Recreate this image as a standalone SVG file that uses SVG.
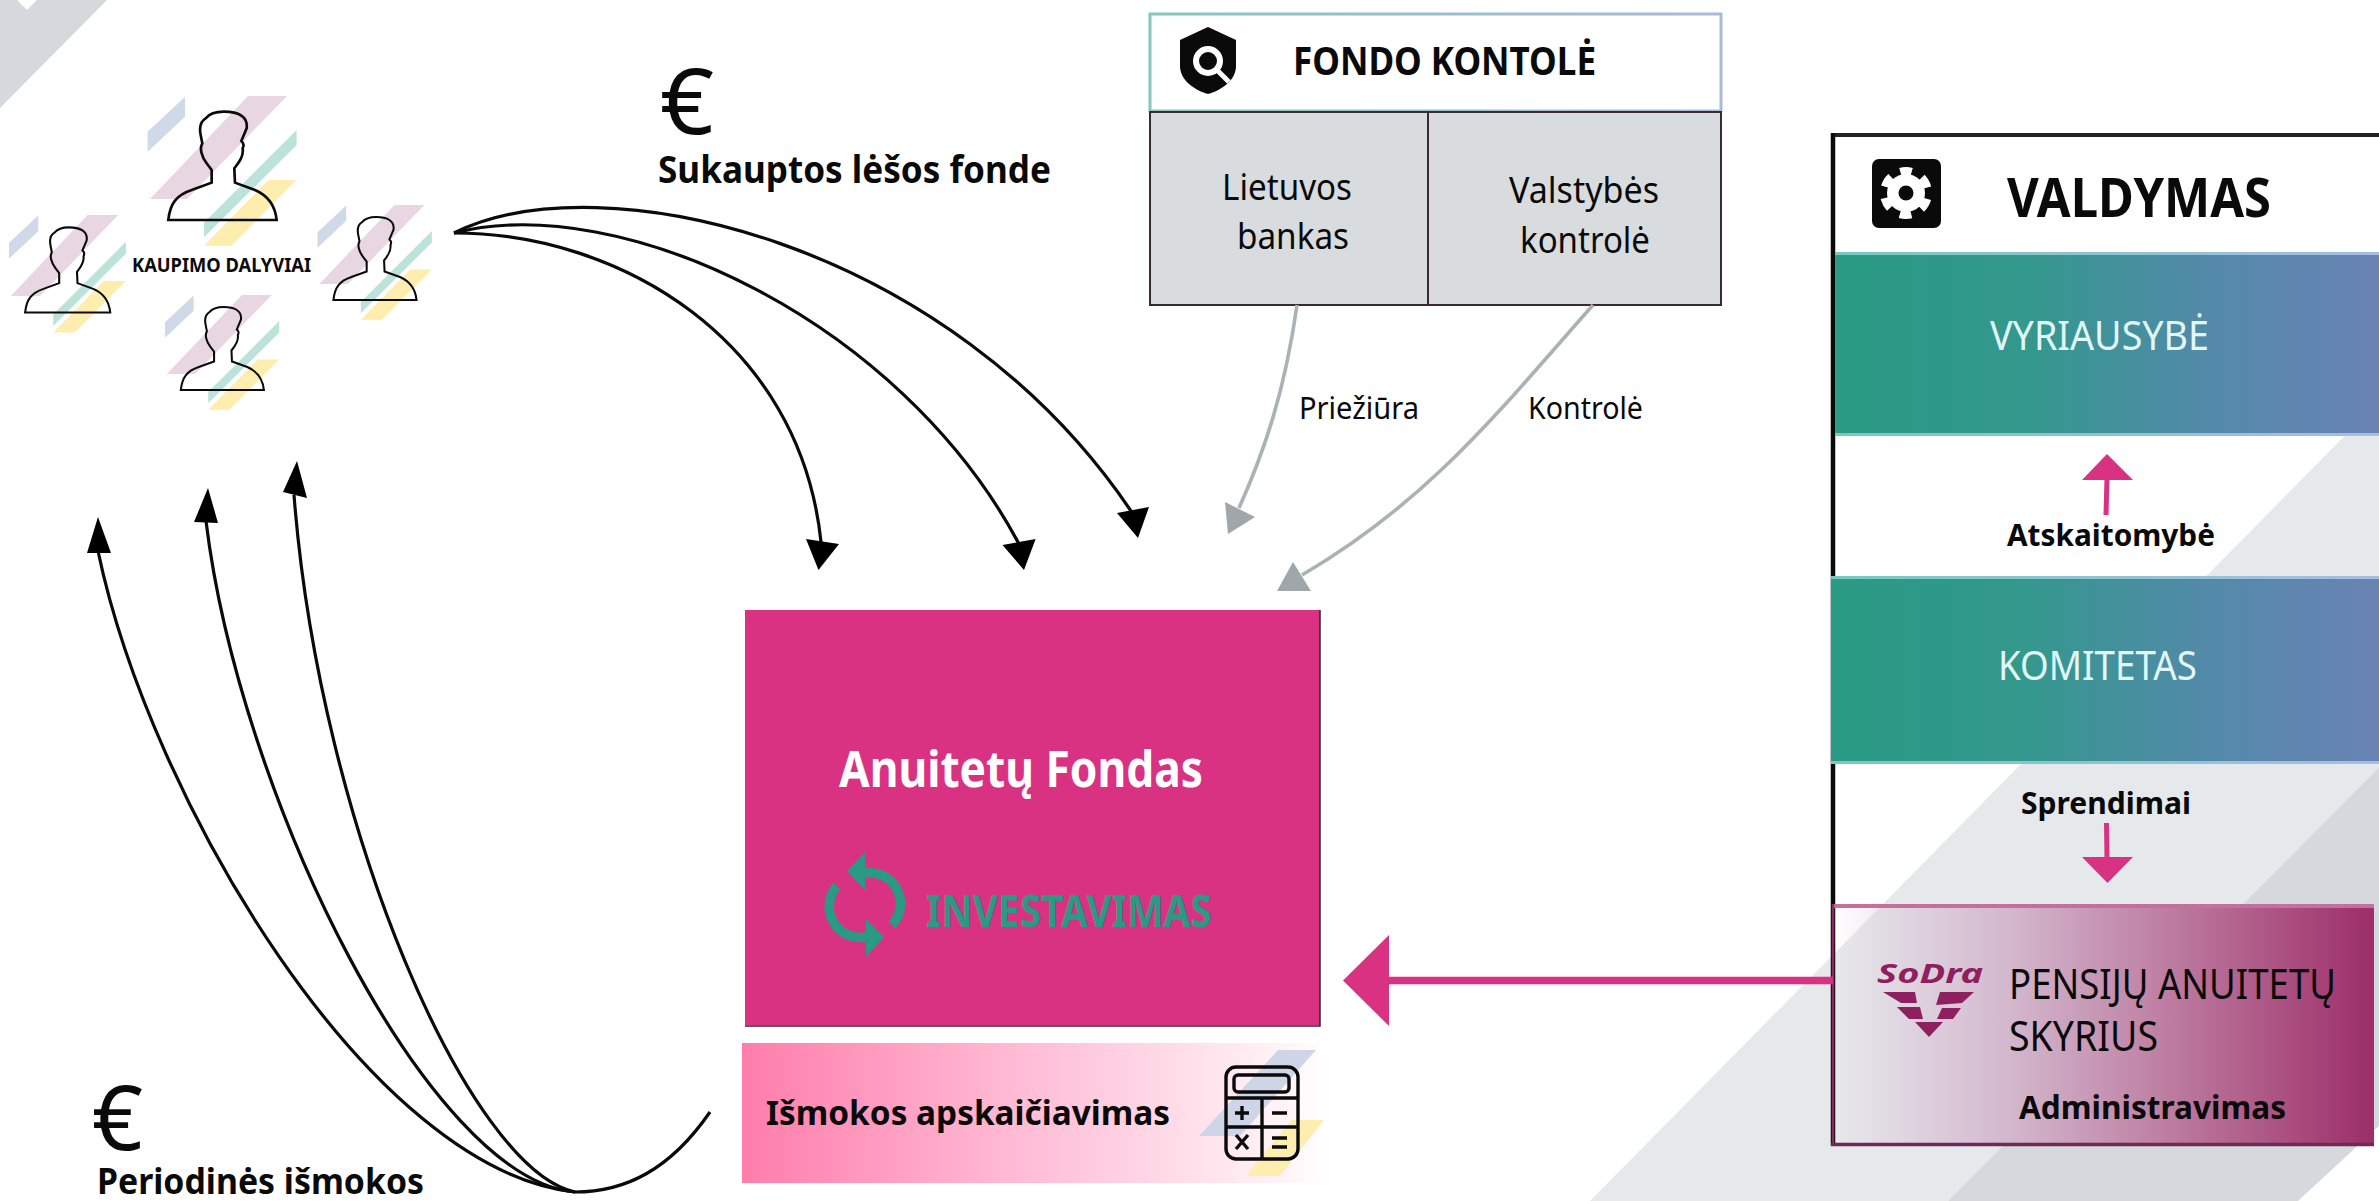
<svg xmlns="http://www.w3.org/2000/svg" width="2379" height="1201" viewBox="0 0 2379 1201">
<style>
text{font-family:"Noto Sans","Liberation Sans",sans-serif;fill:#0a0a0a}
.b{font-weight:700}
.w{fill:#e2f7f7;font-size:40px}
.blk{fill:none;stroke:#0a0a0a;stroke-width:3.2}
.bh{fill:#000}
.gry{fill:none;stroke:#aab2b5;stroke-width:3.6}
.gh{fill:#9fa7aa}
.pk{fill:#d93282}
.pl{fill:none;stroke:#d93282}
.bar{fill:url(#teal)}
.edge{fill:url(#edge)}
.cal{fill:none;stroke:#0a0a0a;stroke-width:3.4}
</style>
<defs>
<linearGradient id="teal" x1="0" x2="1" y1="0" y2="0"><stop offset="0" stop-color="#2a9b84"/><stop offset=".35" stop-color="#33988d"/><stop offset=".7" stop-color="#5489aa"/><stop offset="1" stop-color="#6983b5"/></linearGradient>
<linearGradient id="edge" x1="0" x2="1" y1="0" y2="0"><stop offset="0" stop-color="#78c9c0"/><stop offset="1" stop-color="#a6bde0"/></linearGradient>
<linearGradient id="hdr" gradientUnits="userSpaceOnUse" x1="1150" x2="1722" y1="0" y2="0"><stop offset="0" stop-color="#85c7bb"/><stop offset="1" stop-color="#a9bad9"/></linearGradient>
<linearGradient id="sod" x1="0" x2="1" y1="0" y2="0"><stop offset="0" stop-color="#d6b9cf" stop-opacity="0"/><stop offset=".33" stop-color="#d3b7cd"/><stop offset=".62" stop-color="#bd7da1"/><stop offset="1" stop-color="#9c2e68"/></linearGradient>
<linearGradient id="rose" x1="0" x2="1" y1="0" y2="0"><stop offset="0" stop-color="#ff7dab"/><stop offset=".45" stop-color="#ffb9d3"/><stop offset=".75" stop-color="#ffdde9"/><stop offset="1" stop-color="#ffffff"/></linearGradient>
<g id="person">
<path d="M443,395 L555,290 V350 L443,455Z" fill="#d0d9e8"/>
<path d="M744,288 H861 L561,597 H450Z" fill="#e8d7e2"/>
<path d="M890,390 V435 L612,712 V668Z" fill="#bce3da"/>
<path d="M805,540 H890 L695,737 H612Z" fill="#fdeeb0"/>
<path d="M505,660 H830 C825,610 800,585 765,570 L705,548 L703,505 C715,490 732,470 728,445 Q735,432 724,423 L740,385 C745,350 715,335 672,335 C640,335 625,345 617,355 C600,365 598,385 602,405 L607,430 C598,445 605,470 620,490 L635,510 L635,548 L575,570 C530,585 510,610 505,660Z" fill="none" stroke="#0a0a0a" stroke-width="8"/>
</g>
</defs>
<rect width="2379" height="1201" fill="#fff"/>
<g id="background">
<path d="M0,0 H107 L0,108Z" fill="#d5d9dd"/>
<path d="M17,0 H37 L27,10Z" fill="#fff"/>
<path d="M2379,401 V767 L1948,1201 H1590Z" fill="#e6e9ec"/>
<path d="M2379,767 V1126 L2298,1201 H1948Z" fill="#d5d9dd"/>
</g>
<g id="kaupimo-dalyviai">
<use href="#person" transform="scale(.3333)"/>
<use href="#person" transform="translate(-107,139.7) scale(.2617)"/>
<use href="#person" transform="translate(204.3,131.3) scale(.2557)"/>
<use href="#person" transform="translate(51.7,221.3) scale(.2557)"/>
<text class="b" x="132" y="272" font-size="20" textLength="179" lengthAdjust="spacingAndGlyphs">KAUPIMO DALYVIAI</text>
</g>
<g id="sukauptos">
<text x="660" y="134" font-size="92" textLength="54" lengthAdjust="spacingAndGlyphs">€</text>
<text class="b" x="658" y="183" font-size="38" textLength="393" lengthAdjust="spacingAndGlyphs">Sukauptos lėšos fonde</text>
</g>
<g id="periodines">
<text x="92" y="1150" font-size="90" textLength="51" lengthAdjust="spacingAndGlyphs">€</text>
<text class="b" x="97" y="1194" font-size="36" textLength="327" lengthAdjust="spacingAndGlyphs">Periodinės išmokos</text>
</g>
<g id="fondo-kontrole">
<rect x="1150" y="14" width="571" height="97" fill="#fff" stroke="url(#hdr)" stroke-width="3"/>
<path d="M1208,27 L1236,40 V66 C1236,80 1222,90 1208,94 C1194,90 1180,80 1180,66 V40Z" fill="#0a0a0a"/>
<circle cx="1208" cy="61" r="12" fill="none" stroke="#fff" stroke-width="6"/>
<path d="M1217,70 L1229,82" stroke="#fff" stroke-width="5"/>
<text class="b" x="1293" y="75" font-size="40" textLength="303" lengthAdjust="spacingAndGlyphs">FONDO KONTOLĖ</text>
<rect x="1150" y="112" width="571" height="193" fill="#d9dcde" stroke="#3a2a33" stroke-width="2"/>
<path d="M1428,112 V305" stroke="#3a2a33" stroke-width="2"/>
<text x="1222" y="200" font-size="37" textLength="130" lengthAdjust="spacingAndGlyphs">Lietuvos</text>
<text x="1237" y="249" font-size="37" textLength="112" lengthAdjust="spacingAndGlyphs">bankas</text>
<text x="1509" y="203" font-size="37" textLength="150" lengthAdjust="spacingAndGlyphs">Valstybės</text>
<text x="1520" y="253" font-size="37" textLength="130" lengthAdjust="spacingAndGlyphs">kontrolė</text>
</g>
<g id="anuitetu-fondas">
<rect x="745" y="610" width="575" height="415" class="pk"/>
<path d="M1320,610 V1026 H745" fill="none" stroke="#33202a" stroke-width="1.5"/>
<text class="b" x="839" y="787" font-size="50" textLength="364" lengthAdjust="spacingAndGlyphs" style="fill:#fff">Anuitetų Fondas</text>
<path d="M865,873 A31,31 0 0 1 892,925 M866,937 A31,31 0 0 1 837,886" fill="none" stroke="#2a9a85" stroke-width="9.500"/>
<path d="M847,871 L865,852 V890Z M884,937 L866,919 V957Z" fill="#2a9a85"/>
<text class="b" x="926" y="927" font-size="44" textLength="286" lengthAdjust="spacingAndGlyphs" style="fill:#2a9a85">INVESTAVIMAS</text>
</g>
<g id="ismokos-apskaiciavimas">
<rect x="742" y="1043" width="587" height="140" fill="url(#rose)"/>
<path d="M1278,1050 H1316 L1240,1136 H1199Z" fill="#cdd5e6"/>
<path d="M1291,1120 H1324 L1280,1176 H1246Z" fill="#fdeeb0"/>
<text class="b" x="766" y="1125" font-size="34" textLength="404" lengthAdjust="spacingAndGlyphs">Išmokos apskaičiavimas</text>
<rect x="1226" y="1067" width="72" height="92" rx="10" class="cal"/>
<rect x="1234" y="1075" width="55" height="17" rx="4" class="cal"/>
<path d="M1226,1098 H1298 M1226,1127 H1298 M1262,1098 V1159" class="cal"/>
<path d="M1235,1113 H1249 M1242,1106 V1120 M1272,1113 H1287 M1236,1135 L1248,1149 M1248,1135 L1236,1149 M1272,1138 H1287 M1272,1147 H1287" class="cal"/>
</g>
<g id="valdymas">
<path d="M1833,135 H2379" stroke="#222" stroke-width="4" fill="none"/>
<path d="M1833,133 V1146" stroke="#0a0a0a" stroke-width="4.5" fill="none"/>
<rect x="1872" y="159" width="69" height="69" rx="7" fill="#0a0a0a"/>
<circle cx="1906" cy="193" r="19" fill="#fff"/>
<circle cx="1906" cy="193" r="22" fill="none" stroke="#fff" stroke-width="8" stroke-dasharray="11.52 11.52" transform="rotate(-105 1906 193)"/>
<circle cx="1906" cy="193" r="7.5" fill="#0a0a0a"/>
<text class="b" x="2007" y="217" font-size="53" textLength="264" lengthAdjust="spacingAndGlyphs">VALDYMAS</text>
</g>
<g id="vyriausybe">
<rect x="1835" y="252" width="544" height="181" class="bar"/>
<rect x="1835" y="252" width="544" height="3" class="edge"/>
<rect x="1835" y="433" width="544" height="3" class="edge"/>
<text class="w" x="1990" y="350" textLength="219" lengthAdjust="spacingAndGlyphs">VYRIAUSYBĖ</text>
</g>
<g id="komitetas">
<rect x="1831" y="577" width="548" height="185" class="bar"/>
<rect x="1831" y="576" width="548" height="3" class="edge"/>
<rect x="1831" y="761" width="548" height="3" class="edge"/>
<text class="w" x="1998" y="680" textLength="199" lengthAdjust="spacingAndGlyphs">KOMITETAS</text>
</g>
<g id="pensiju-anuitetu-skyrius">
<rect x="1832" y="904" width="542" height="241" fill="url(#sod)"/>
<path d="M1832,906 H2374" stroke="#c56f9e" stroke-width="4"/>
<path d="M1833,904 V1145" stroke="#8a2a63" stroke-width="2.5"/>
<path d="M1831,1144.500 H2374" stroke="#6e2a52" stroke-width="3.500"/>
<text x="1877" y="983" font-size="26" font-weight="700" font-style="italic" textLength="106" lengthAdjust="spacingAndGlyphs" style="fill:#8f2060">SoDra</text>
<path d="M1883,992 H1915 L1917,1003 L1901,1003Z M1897,1007 H1920 L1923,1019 H1909Z M1974,992 H1940 L1936,1005 L1962,1003Z M1961,1008 H1942 L1937,1019 H1953Z M1915,1022 H1943 L1929,1037Z" fill="#8f2060"/>
<text x="2009" y="999" font-size="41" textLength="327" lengthAdjust="spacingAndGlyphs">PENSIJŲ ANUITETŲ</text>
<text x="2009" y="1051" font-size="41" textLength="149" lengthAdjust="spacingAndGlyphs">SKYRIUS</text>
<text class="b" x="2019" y="1119" font-size="33" textLength="267" lengthAdjust="spacingAndGlyphs">Administravimas</text>
</g>
<g id="connectors">
<path class="blk" d="M454,233 C620,233 800,340 821,542"/>
<path class="bh" d="M806,539 L839,544 L818.500,570Z"/>
<path class="blk" d="M454,233 C620,190 900,320 1019,544"/>
<path class="bh" d="M1002.500,545 L1035.600,539 L1024,570Z"/>
<path class="blk" d="M454,233 C600,160 950,240 1133,514"/>
<path class="bh" d="M1117,513 L1149,507 L1138,538Z"/>
<path class="blk" d="M710,1112 C670,1170 625,1192 575,1192"/>
<path class="blk" d="M575,1192 C370,1170 150,800 98,551"/>
<path class="bh" d="M98,517 L87,553 H111Z"/>
<path class="blk" d="M575,1192 C430,1180 240,800 206,521"/>
<path class="bh" d="M208,488 L194,522 L218,523Z"/>
<path class="blk" d="M575,1192 C470,1170 320,830 294,495"/>
<path class="bh" d="M297,461 L283,492 L307,498Z"/>
<path class="gry" d="M1297,305 C1285,390 1265,450 1239,508"/>
<path class="gh" d="M1225,502 L1255,517 L1228,534Z"/>
<path class="gry" d="M1593,305 C1500,410 1430,500 1302,575"/>
<path class="gh" d="M1293,562 L1277,591 H1311Z"/>
<text x="1299" y="419" font-size="30" textLength="120" lengthAdjust="spacingAndGlyphs">Priežiūra</text>
<text x="1528" y="419" font-size="30" textLength="115" lengthAdjust="spacingAndGlyphs">Kontrolė</text>
<path class="pl" stroke-width="7.500" d="M1833,980.500 H1388"/>
<path class="pk" d="M1343,980.500 L1389,935 V1026Z"/>
<path class="pl" stroke-width="5" d="M2106,515 L2107,478"/>
<path class="pk" d="M2107,454 L2133,480 H2082Z"/>
<text class="b" x="2007" y="546" font-size="31" textLength="208" lengthAdjust="spacingAndGlyphs">Atskaitomybė</text>
<text class="b" x="2021" y="814" font-size="31" textLength="170" lengthAdjust="spacingAndGlyphs">Sprendimai</text>
<path class="pl" stroke-width="5" d="M2106.500,823 L2107,860"/>
<path class="pk" d="M2082,857 H2133 L2107.500,883Z"/>
</g>
</svg>
